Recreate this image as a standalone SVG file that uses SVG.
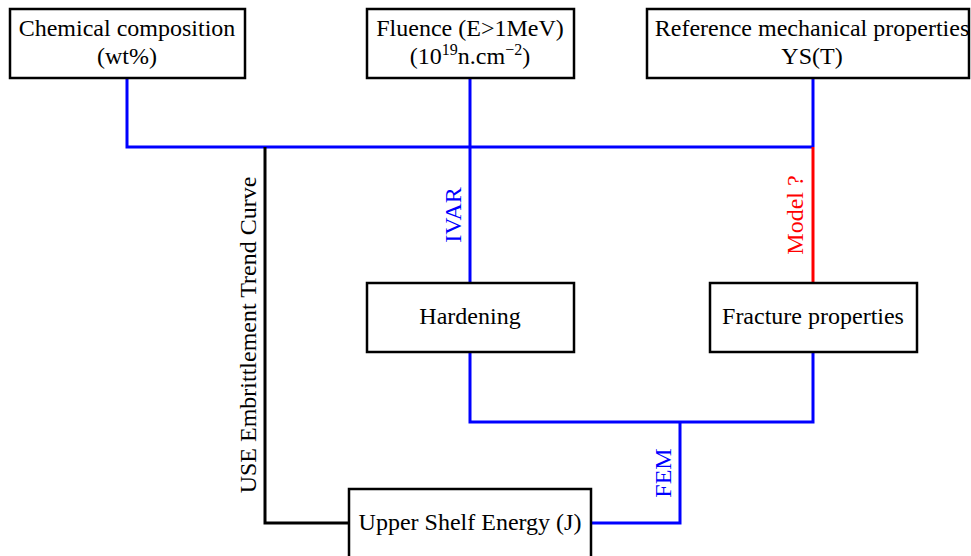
<svg xmlns="http://www.w3.org/2000/svg" width="971" height="556" viewBox="0 0 971 556">
<style>
.box{fill:#fff;stroke:#000;stroke-width:2.5}
.t{font-family:"Liberation Serif","Times New Roman",serif;font-size:24px;fill:#000;text-anchor:middle}
.b{fill:none;stroke:#0000ff;stroke-width:3}
.r{fill:none;stroke:#ff0000;stroke-width:3}
.k{fill:none;stroke:#000;stroke-width:3}
</style>
<rect width="971" height="556" fill="#fff"/>
<g id="connectors">
<polyline class="b" points="127,78 127,147 813,147"/>
<line class="b" x1="470" y1="78" x2="470" y2="283"/>
<line class="b" x1="813" y1="78" x2="813" y2="147"/>
<line class="r" x1="813" y1="147" x2="813" y2="283"/>
<polyline class="k" points="265,147 265,523 349,523"/>
<polyline class="b" points="470,352 470,422 813,422 813,352"/>
<polyline class="b" points="680,422 680,523 591,523"/>
<text class="t" transform="translate(256,335) rotate(-90)">USE Embrittlement Trend Curve</text>
<text class="t" style="fill:#0000ff" transform="translate(461,215) rotate(-90)">IVAR</text>
<text class="t" style="fill:#ff0000" transform="translate(803,215) rotate(-90)">Model ?</text>
<text class="t" style="fill:#0000ff" transform="translate(671,473) rotate(-90)">FEM</text>
</g>
<g id="chem">
<rect class="box" x="10" y="9" width="235" height="69"/>
<text class="t" x="127" y="36">Chemical composition</text>
<text class="t" x="127" y="64">(wt%)</text>
</g>
<g id="fluence">
<rect class="box" x="367" y="9" width="207" height="69"/>
<text class="t" x="470" y="36">Fluence (E&gt;1MeV)</text>
<text class="t" x="470" y="64">(10<tspan dy="-9" font-size="16">19</tspan><tspan dy="9">n.cm</tspan><tspan dy="-9" font-size="16">−2</tspan><tspan dy="9">)</tspan></text>
</g>
<g id="ref">
<rect class="box" x="647" y="9" width="322" height="69"/>
<text class="t" x="812" y="36">Reference mechanical properties</text>
<text class="t" x="812" y="64">YS(T)</text>
</g>
<g id="hardening">
<rect class="box" x="367" y="283" width="207" height="69"/>
<text class="t" x="470" y="324">Hardening</text>
</g>
<g id="fracture">
<rect class="box" x="710" y="283" width="207" height="69"/>
<text class="t" x="813" y="324">Fracture properties</text>
</g>
<g id="use">
<rect class="box" x="349" y="489" width="242" height="75"/>
<text class="t" x="470" y="530">Upper Shelf Energy (J)</text>
</g>
</svg>
